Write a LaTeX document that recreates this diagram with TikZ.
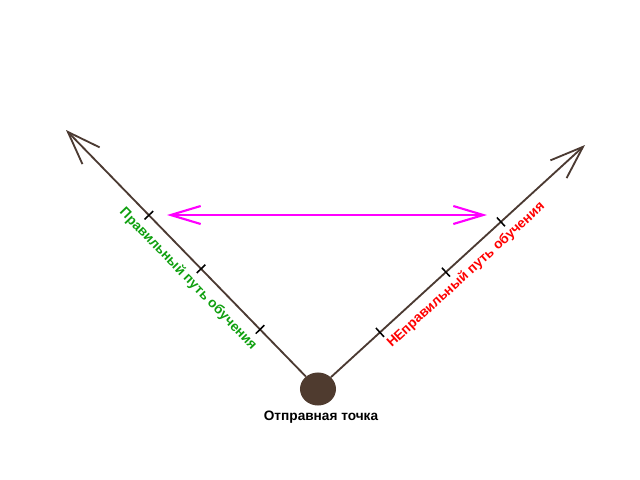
\documentclass[tikz,border=0pt]{standalone}
\usepackage{fontspec}
\setmainfont{Liberation Sans}
\usetikzlibrary{arrows.meta,calc,shapes.geometric}
\definecolor{brownline}{HTML}{4B3A32}
\definecolor{browndot}{HTML}{4F3B2F}
\definecolor{goodgreen}{HTML}{0FA00F}
\definecolor{cmpmag}{HTML}{FF00FF}
\begin{document}
\begin{tikzpicture}[x=0.025cm,y=-0.025cm,
  pathline/.style={draw=brownline,line width=1.3pt,-{Straight Barb[length=0.83cm,width=0.6cm,line width=1.3pt]}},
  tickmark/.style={draw=black,line width=1.1pt,minimum width=0pt,minimum height=0.3cm,inner sep=0pt,sloped},
  cmp/.style={draw=cmpmag,line width=1.5pt,{Straight Barb[length=0.75cm,width=0.45cm,line width=1.5pt]}-{Straight Barb[length=0.75cm,width=0.45cm,line width=1.5pt]}},
  lbl/.style={font=\bfseries\fontsize{9.7}{11}\selectfont,inner sep=0pt}]
\useasboundingbox[fill=white] (0,0) rectangle (640,480);
\node[ellipse,fill=browndot,minimum width=0.9cm,minimum height=0.825cm,inner sep=0pt] (start) at (318,389) {};
\coordinate (tipL) at (66,130);
\coordinate (tipR) at (585,145);
\draw[pathline] (start) -- (tipL);
\draw[pathline] (start) -- (tipR);
\path (start.center) -- (tipL)
  node[tickmark,pos=0.230] (tl1) {}
  node[tickmark,pos=0.464] (tl2) {}
  node[tickmark,pos=0.671] (tl3) {};
\path (start.center) -- (tipR)
  node[tickmark,pos=0.232] (tr1) {}
  node[tickmark,pos=0.479] (tr2) {}
  node[tickmark,pos=0.685] (tr3) {};
\coordinate (mL) at (167,215);
\coordinate (mR) at (487,215);
\draw[cmp] (mL) -- (mR);
\node[lbl,text=goodgreen,rotate=-46] (good) at (188,279) {Правильный путь обучения};
\node[lbl,text=red,rotate=42.5] (bad) at (466,275) {НЕправильный путь обучения};
\node[lbl,text=black] (startlbl) at (321,417) {Отправная точка};
\end{tikzpicture}
\end{document}
